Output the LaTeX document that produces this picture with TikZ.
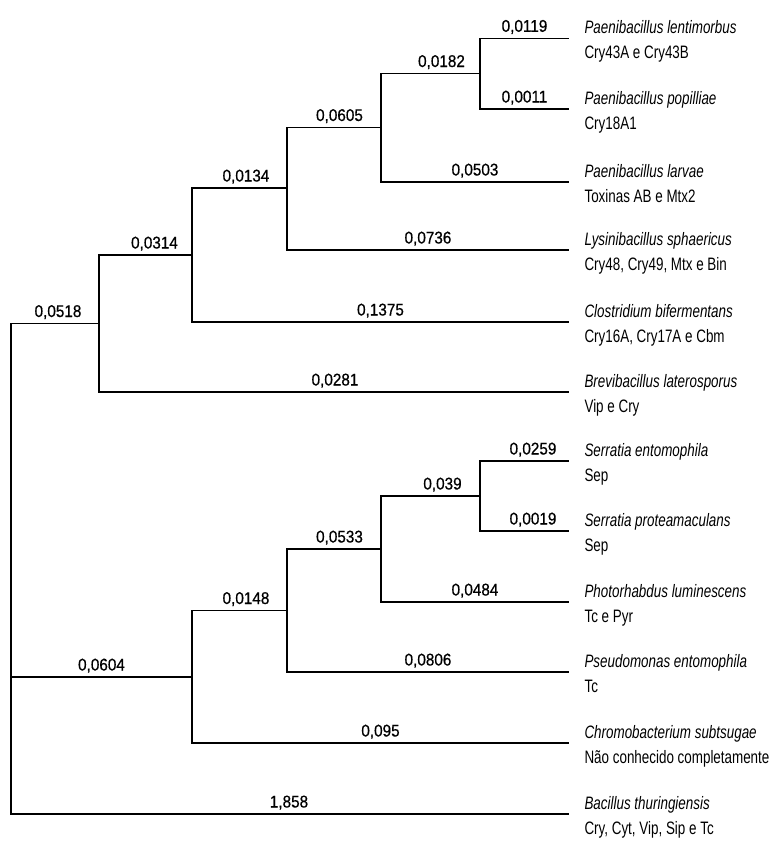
\documentclass[tikz,border=0pt]{standalone}
\usepackage{fontspec}
\newfontfamily\leaffont[FakeStretch=0.745]{Liberation Sans}
\newfontfamily\numfont[FakeStretch=0.9,FakeBold=0.6]{Liberation Sans}
\begin{document}
\begin{tikzpicture}[x=1pt,y=-1pt,line width=1.1pt,
  branch/.style={draw=black},
  num/.style={font=\numfont\fontsize{17}{20}\selectfont,anchor=base,inner sep=0pt,yshift=6.5pt},
  sp/.style={font=\leaffont\itshape\fontsize{18}{21}\selectfont,anchor=base west,inner sep=0pt},
  tx/.style={font=\leaffont\fontsize{18}{21}\selectfont,anchor=base west,inner sep=0pt}]
\useasboundingbox (0,0) rectangle (774,847);

% tips
\coordinate (L1) at (569,38.3);
\coordinate (L2) at (569,109);
\coordinate (L3) at (569,182);
\coordinate (L4) at (569,250);
\coordinate (L5) at (569,322);
\coordinate (L6) at (569,392);
\coordinate (L7) at (569,461);
\coordinate (L8) at (569,531);
\coordinate (L9) at (569,602);
\coordinate (L10) at (569,672);
\coordinate (L11) at (569,743);
\coordinate (L12) at (569,814);

% internal nodes
\coordinate (root) at (11,568);
\coordinate (n2) at (99,323.5);
\coordinate (n3) at (192,255);
\coordinate (n4) at (287,188);
\coordinate (n5) at (381,127.5);
\coordinate (n6) at (480,73.5);
\coordinate (m1) at (192,677);
\coordinate (m2) at (287,610.5);
\coordinate (m3) at (381,549);
\coordinate (m4) at (480,496);

% upper clade
\draw[branch] (n6) |- (L1) node[num,pos=0.75]{0,0119};
\draw[branch] (n6) |- (L2) node[num,pos=0.75]{0,0011};
\draw[branch] (n5) |- (n6) node[num,pos=0.75,xshift=11pt]{0,0182};
\draw[branch] (n5) |- (L3) node[num,pos=0.75]{0,0503};
\draw[branch] (n4) |- (n5) node[num,pos=0.75,xshift=5.5pt]{0,0605};
\draw[branch] (n4) |- (L4) node[num,pos=0.75]{0,0736};
\draw[branch] (n3) |- (n4) node[num,pos=0.75,xshift=6.5pt]{0,0134};
\draw[branch] (n3) |- (L5) node[num,pos=0.75]{0,1375};
\draw[branch] (n2) |- (n3) node[num,pos=0.75,xshift=9pt]{0,0314};
\draw[branch] (n2) |- (L6) node[num,pos=0.75,xshift=1pt]{0,0281};

% lower clade
\draw[branch] (m4) |- (L7) node[num,pos=0.75,xshift=8.5pt]{0,0259};
\draw[branch] (m4) |- (L8) node[num,pos=0.75,xshift=8.5pt]{0,0019};
\draw[branch] (m3) |- (m4) node[num,pos=0.75,xshift=12pt]{0,039};
\draw[branch] (m3) |- (L9) node[num,pos=0.75]{0,0484};
\draw[branch] (m2) |- (m3) node[num,pos=0.75,xshift=5.5pt]{0,0533};
\draw[branch] (m2) |- (L10) node[num,pos=0.75]{0,0806};
\draw[branch] (m1) |- (m2) node[num,pos=0.75,xshift=6.5pt]{0,0148};
\draw[branch] (m1) |- (L11) node[num,pos=0.75]{0,095};

% root
\draw[branch] (root) |- (n2) node[num,pos=0.75,xshift=3pt]{0,0518};
\draw[branch] (root) |- (m1) node[num,pos=0.75]{0,0604};
\draw[branch] (root) |- (L12) node[num,pos=0.75,xshift=-1pt]{1,858};

% tip labels
\foreach \i/\spname/\prot in {
  1/Paenibacillus lentimorbus/Cry43A e Cry43B,
  2/Paenibacillus popilliae/Cry18A1,
  3/Paenibacillus larvae/Toxinas AB e Mtx2,
  4/Lysinibacillus sphaericus/{Cry48, Cry49, Mtx e Bin},
  5/Clostridium bifermentans/{Cry16A, Cry17A e Cbm},
  6/Brevibacillus laterosporus/Vip e Cry,
  7/Serratia entomophila/Sep,
  8/Serratia proteamaculans/Sep,
  9/Photorhabdus luminescens/Tc e Pyr,
  10/Pseudomonas entomophila/Tc,
  11/Chromobacterium subtsugae/Não conhecido completamente,
  12/Bacillus thuringiensis/{Cry, Cyt, Vip, Sip e Tc}}{
  \node[sp] (sp\i) at ([xshift=15pt,yshift=4.5pt]L\i) {\spname};
  \node[tx] (pr\i) at ([xshift=15pt,yshift=-20.5pt]L\i) {\prot};
}
\end{tikzpicture}
\end{document}
